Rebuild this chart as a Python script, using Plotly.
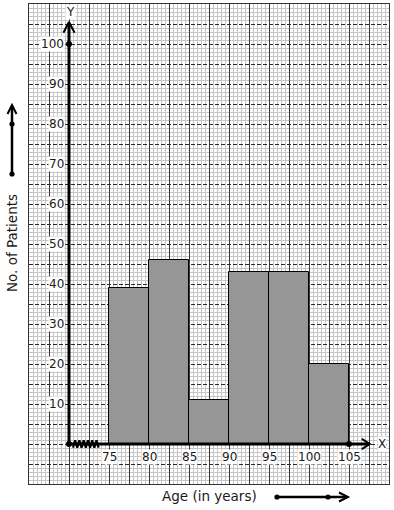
import plotly.graph_objects as go
import numpy as np

# ---- data ----
age_lower = [75, 80, 85, 90, 95, 100]
class_width = 5
patients = [39, 46, 11, 43, 43, 20]
x_tick_vals = [75, 80, 85, 90, 95, 100, 105]
y_tick_vals = [10, 20, 30, 40, 50, 60, 70, 80, 90, 100]

W, H = 394, 510
L, R, T, B = 29, 5, 4, 26
PW, PH = W - L - R, H - T - B
XR = [65, 110]
YR = [-10, 110]
XPX = PW / (XR[1] - XR[0])   # px per x unit
YPX = PH / (YR[1] - YR[0])   # px per y unit
DX = 0.5 / XPX               # half-pixel offsets for crisp lines
DY = 0.5 / YPX


def fx(px):
    return (px - L) / PW


def fy(py):
    return (H - B - py) / PH


FONT = "DejaVu Sans"
TXT = "#1a1a1a"

fig = go.Figure()


def vlines(vals):
    xs, ys = [], []
    for v in vals:
        xs += [v + DX, v + DX, None]
        ys += [YR[0], YR[1], None]
    return xs, ys


def hlines(vals):
    xs, ys = [], []
    for v in vals:
        xs += [XR[0], XR[1], None]
        ys += [v - DY, v - DY, None]
    return xs, ys


minor_x = [v for v in np.arange(XR[0], XR[1] + 0.01, 0.5) if abs((v - XR[0]) / 2.5 - round((v - XR[0]) / 2.5)) > 1e-6]
minor_y = [v for v in range(YR[0], YR[1] + 1) if v % 5 != 0]
major_x = list(np.arange(XR[0] + 2.5, XR[1], 2.5))
major_y = list(range(YR[0] + 5, YR[1], 5))

# graph paper on base axes
GRID_MINOR = "#c6c6c6"
for xs, ys in [vlines(minor_x), hlines(minor_y)]:
    fig.add_trace(go.Scatter(x=xs, y=ys, mode="lines", line=dict(color=GRID_MINOR, width=1),
                             showlegend=False, hoverinfo="skip"))
xs, ys = vlines(major_x)
fig.add_trace(go.Scatter(x=xs, y=ys, mode="lines", line=dict(color="#3a3a3a", width=1),
                         showlegend=False, hoverinfo="skip"))
xs, ys = hlines(major_y)
fig.add_trace(go.Scatter(x=xs, y=ys, mode="lines", line=dict(color="#2a2a2a", width=1, dash="4px,2px"),
                         showlegend=False, hoverinfo="skip"))

# histogram bars on overlay axes (drawn above the paper)
fig.add_trace(go.Bar(
    x=[a + class_width / 2 for a in age_lower], y=patients, width=class_width,
    marker=dict(color="#969696", line=dict(color="black", width=1)),
    hoverinfo="skip", showlegend=False, xaxis="x2", yaxis="y2"))

# axes (thick lines)
x0 = 70  # origin (with kink)
ov = dict(xaxis="x2", yaxis="y2", showlegend=False, hoverinfo="skip", cliponaxis=False)
fig.add_trace(go.Scatter(x=[x0, 107.6], y=[0, 0], mode="lines", line=dict(color="black", width=3), **ov))
fig.add_trace(go.Scatter(x=[x0, x0], y=[0, 105.3], mode="lines", line=dict(color="black", width=3), **ov))
# arrowheads
fig.add_trace(go.Scatter(x=[106.6, 107.6, 106.6], y=[1.3, 0, -1.3], mode="lines",
                         line=dict(color="black", width=2), **ov))
fig.add_trace(go.Scatter(x=[69.3, x0, 70.7], y=[102.8, 105.5, 102.8], mode="lines",
                         line=dict(color="black", width=2), **ov))
# dots
fig.add_trace(go.Scatter(x=[x0, 105, x0], y=[0, 0, 100], mode="markers",
                         marker=dict(color="black", size=6), **ov))
# kink zigzag
zx = np.linspace(70.5, 73.7, 13)
zy = np.where(np.arange(13) % 2 == 0, -0.9, 0.9)
fig.add_trace(go.Scatter(x=zx, y=zy, mode="lines", line=dict(color="black", width=2.2), **ov))

annotations = []
for v in y_tick_vals:
    annotations.append(dict(x=x0, y=v, xref="x", yref="y", text=str(v), showarrow=False,
                            xanchor="right", yanchor="middle", xshift=-4,
                            font=dict(family=FONT, size=12, color=TXT), bgcolor="white", borderpad=0))
for v in x_tick_vals:
    annotations.append(dict(x=v, y=0, xref="x", yref="y", text=str(v), showarrow=False,
                            xanchor="center", yanchor="middle", yshift=-13,
                            font=dict(family=FONT, size=12, color=TXT), bgcolor="white", borderpad=0))
annotations.append(dict(x=108.5, y=0, xref="x", yref="y", text="X", showarrow=False,
                        xanchor="left", yanchor="middle",
                        font=dict(family=FONT, size=12, color=TXT), bgcolor="white", borderpad=0))
annotations.append(dict(x=x0, y=108, xref="x", yref="y", text="Y", showarrow=False,
                        xanchor="center", yanchor="middle", xshift=1,
                        font=dict(family=FONT, size=12, color=TXT), bgcolor="white", borderpad=0))
annotations.append(dict(x=fx(209), y=fy(496), xref="paper", yref="paper", text="Age (in years)",
                        showarrow=False, xanchor="center", yanchor="middle",
                        font=dict(family=FONT, size=13.5, color=TXT)))
annotations.append(dict(x=fx(12), y=fy(243), xref="paper", yref="paper", text="No. of Patients",
                        showarrow=False, xanchor="center", yanchor="middle", textangle=-90,
                        font=dict(family=FONT, size=13.5, color=TXT)))

shapes = []
# left arrow
shapes.append(dict(type="line", xref="paper", yref="paper", x0=fx(12), y0=fy(174), x1=fx(12), y1=fy(106),
                   line=dict(color="black", width=2.5)))
shapes.append(dict(type="path", xref="paper", yref="paper",
                   path=f"M{fx(7.5)},{fy(114)} L{fx(12)},{fy(105)} L{fx(16.5)},{fy(114)}",
                   line=dict(color="black", width=2)))
# bottom arrow
shapes.append(dict(type="line", xref="paper", yref="paper", x0=fx(277), y0=fy(497), x1=fx(347), y1=fy(497),
                   line=dict(color="black", width=2.5)))
shapes.append(dict(type="path", xref="paper", yref="paper",
                   path=f"M{fx(339)},{fy(492.5)} L{fx(348)},{fy(497)} L{fx(339)},{fy(501.5)}",
                   line=dict(color="black", width=2)))
r = 2.6
for (cx, cy) in [(12, 124), (12, 174), (277, 497), (328, 497)]:
    shapes.append(dict(type="circle", xref="paper", yref="paper",
                       x0=fx(cx - r), x1=fx(cx + r), y0=fy(cy + r), y1=fy(cy - r),
                       fillcolor="black", line=dict(color="black", width=0)))

fig.update_layout(
    width=W, height=H, margin=dict(l=L, r=R, t=T, b=B),
    paper_bgcolor="white", plot_bgcolor="white",
    bargap=0, showlegend=False,
    annotations=annotations, shapes=shapes,
    xaxis=dict(range=XR, showgrid=False, showticklabels=False, ticks="", zeroline=False,
               showline=True, mirror=True, linecolor="#333", linewidth=1, fixedrange=True),
    yaxis=dict(range=YR, showgrid=False, showticklabels=False, ticks="", zeroline=False,
               showline=True, mirror=True, linecolor="#333", linewidth=1, fixedrange=True),
    xaxis2=dict(range=XR, overlaying="x", visible=False, fixedrange=True),
    yaxis2=dict(range=YR, overlaying="y", visible=False, fixedrange=True),
)

fig.write_html("out.html")
